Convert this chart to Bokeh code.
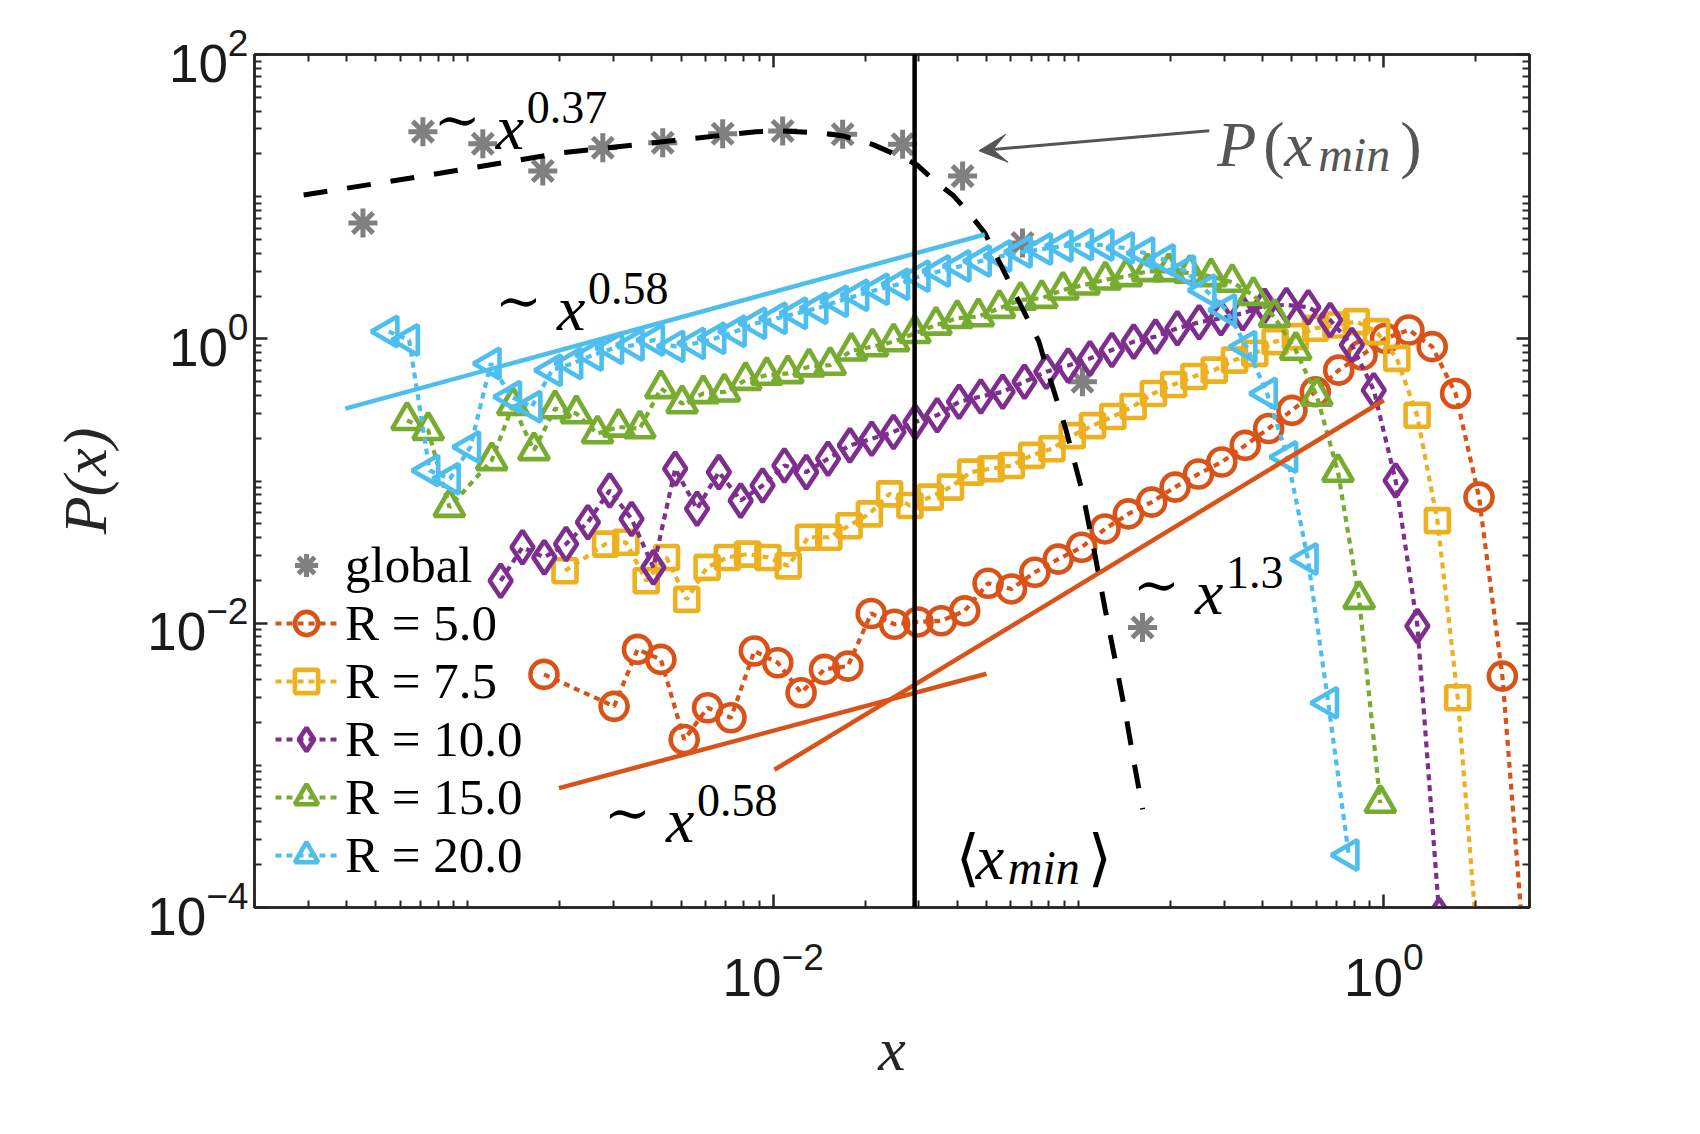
import math
from bokeh.plotting import figure
from bokeh.models import (Range1d, FixedTicker, LogAxis, Legend, LegendItem, Label,
                          Arrow, VeeHead, Span, CustomJSTickFormatter)
from bokeh.embed import file_html
from bokeh.resources import INLINE

# ---------------- data ----------------
x_global = [4.532e-4, 7.122e-4, 1.119e-3, 1.759e-3, 2.766e-3, 4.346e-3, 6.831e-3,
            0.01074, 0.01688, 0.02653, 0.04171, 0.06554, 0.1030, 0.1620]
y_global = [6.533, 28.67, 23.59, 15.14, 22.10, 23.97, 27.75,
            28.94, 27.52, 23.39, 13.95, 4.721, 0.4989, 9.31e-3]

x_r5 = [1.775e-3, 3.012e-3, 3.593e-3, 4.285e-3, 5.111e-3, 6.097e-3, 7.272e-3, 8.674e-3,
        0.01035, 0.01234, 0.01472, 0.01756, 0.02094, 0.02498, 0.02980, 0.03554, 0.04239,
        0.05056, 0.06031, 0.07195, 0.08580, 0.1024, 0.1221, 0.1456, 0.1737, 0.2072, 0.2471,
        0.2947, 0.3516, 0.4194, 0.5002, 0.5966, 0.7115, 0.8487, 1.0125, 1.208, 1.440, 1.718,
        2.050, 2.445, 2.916]
y_r5 = [4.36e-3, 2.60e-3, 6.54e-3, 5.56e-3, 1.52e-3, 2.54e-3, 2.16e-3, 6.37e-3, 5.27e-3,
        3.24e-3, 4.73e-3, 4.99e-3, 1.17e-2, 9.82e-3, 1.02e-2, 1.04e-2, 1.22e-2, 1.91e-2,
        1.74e-2, 2.28e-2, 2.82e-2, 3.42e-2, 4.60e-2, 5.87e-2, 7.10e-2, 9.06e-2, 0.112, 0.136,
        0.178, 0.234, 0.314, 0.424, 0.602, 0.769, 1.008, 1.154, 0.881, 0.4125, 0.0770,
        4.24e-3, 3.6e-5]

x_r75 = [2.080e-3, 2.825e-3, 3.292e-3, 3.836e-3, 4.471e-3, 5.209e-3, 6.072e-3, 7.075e-3,
         8.245e-3, 9.607e-3, 0.01120, 0.01305, 0.01521, 0.01772, 0.02065, 0.02406, 0.02804,
         0.03268, 0.03808, 0.04437, 0.05170, 0.06026, 0.07023, 0.08184, 0.09537, 0.1111,
         0.1295, 0.1509, 0.1759, 0.2050, 0.2388, 0.2783, 0.3243, 0.3779, 0.4404, 0.5131,
         0.5980, 0.6969, 0.8124, 0.9465, 1.103, 1.285, 1.498, 1.746, 2.034]
y_r75 = [2.335e-2, 3.60e-2, 3.71e-2, 1.99e-2, 2.90e-2, 1.47e-2, 2.47e-2, 2.90e-2, 3.06e-2,
         2.90e-2, 2.53e-2, 4.02e-2, 4.02e-2, 4.85e-2, 5.87e-2, 8.12e-2, 6.72e-2, 7.70e-2,
         9.06e-2, 0.1155, 0.122, 0.1286, 0.1514, 0.1687, 0.2084, 0.2453, 0.2839, 0.3339,
         0.4125, 0.4773, 0.5437, 0.602, 0.7086, 0.790, 0.9555, 1.036, 1.186, 1.251, 1.322,
         1.124, 0.7285, 0.2899, 0.0526, 2.985e-3, 5.0e-5]

x_r10 = [1.280e-3, 1.509e-3, 1.779e-3, 2.097e-3, 2.472e-3, 2.914e-3, 3.436e-3, 4.051e-3,
         4.775e-3, 5.630e-3, 6.637e-3, 7.825e-3, 9.228e-3, 0.01088, 0.01283, 0.01512,
         0.01783, 0.02102, 0.02477, 0.02921, 0.03444, 0.04060, 0.04786, 0.05643, 0.06653,
         0.07843, 0.09247, 0.1090, 0.1286, 0.1516, 0.1787, 0.2107, 0.2483, 0.2928, 0.3451,
         0.4069, 0.4797, 0.5656, 0.6668, 0.7861, 0.9268, 1.093, 1.288, 1.519]
y_r10 = [1.985e-2, 3.416e-2, 2.903e-2, 3.604e-2, 5.13e-2, 8.57e-2, 5.41e-2, 2.468e-2,
         0.1219, 6.37e-2, 0.1155, 7.28e-2, 9.29e-2, 0.1286, 0.1155, 0.1435, 0.178, 0.1985,
         0.2214, 0.2604, 0.2899, 0.3604, 0.3929, 0.424, 0.4989, 0.5869, 0.6501, 0.7285,
         0.8337, 0.9555, 1.036, 1.186, 1.307, 1.395, 1.514, 1.710, 1.732, 1.669, 1.357,
         0.904, 0.4352, 0.1008, 9.55e-3, 8.8e-5]

x_r15 = [6.320e-4, 7.413e-4, 8.696e-4, 1.1965e-3, 1.4035e-3, 1.646e-3, 1.931e-3, 2.266e-3,
         2.658e-3, 3.117e-3, 3.656e-3, 4.288e-3, 5.030e-3, 5.901e-3, 6.922e-3, 8.120e-3,
         9.524e-3, 0.01117, 0.01310, 0.01537, 0.01803, 0.02115, 0.02480, 0.02909, 0.03413,
         0.04005, 0.04697, 0.05509, 0.06463, 0.07579, 0.08892, 0.1043, 0.1224, 0.1435,
         0.1683, 0.1974, 0.2316, 0.2718, 0.3187, 0.3738, 0.4385, 0.5143, 0.6034, 0.7078,
         0.8302, 0.9739]
y_r15 = [0.2673, 0.2272, 0.0654, 0.1395, 0.341, 0.1641, 0.3232, 0.298, 0.2153, 0.2401,
         0.2335, 0.4474, 0.3506, 0.4125, 0.424, 0.5118, 0.5552, 0.5707, 0.6365, 0.6533,
         0.8228, 0.881, 0.9555, 1.093, 1.251, 1.395, 1.435, 1.641, 1.878, 1.931, 2.210,
         2.397, 2.600, 2.748, 2.980, 2.980, 2.899, 2.748, 2.504, 2.028, 1.418, 0.8337,
         0.396, 0.1155, 1.475e-2, 5.42e-4]

x_r20 = [5.503e-4, 6.420e-4, 7.488e-4, 8.737e-4, 1.019e-3, 1.189e-3, 1.387e-3, 1.618e-3,
         1.887e-3, 2.201e-3, 2.568e-3, 2.996e-3, 3.495e-3, 4.077e-3, 4.756e-3, 5.548e-3,
         6.473e-3, 7.551e-3, 8.808e-3, 0.01028, 0.01199, 0.01398, 0.01631, 0.01903, 0.02220,
         0.02590, 0.03021, 0.03524, 0.04112, 0.04795, 0.05595, 0.06527, 0.07614, 0.08882,
         0.1036, 0.1209, 0.1410, 0.1645, 0.1919, 0.2238, 0.2611, 0.3046, 0.3553, 0.4145,
         0.4834, 0.5639, 0.6578, 0.7674]
y_r20 = [1.124, 0.981, 0.1186, 0.1036, 0.1735, 0.6716, 0.3909, 0.3323, 0.602, 0.6716,
         0.769, 0.857, 0.904, 0.981, 0.885, 0.929, 1.008, 1.130, 1.286, 1.395, 1.514, 1.641,
         1.839, 2.028, 2.236, 2.424, 2.761, 2.995, 3.248, 3.524, 3.821, 4.077, 4.281, 4.495,
         4.606, 4.569, 4.351, 4.012, 3.581, 2.995, 2.199, 1.597, 0.881, 0.4125, 0.1475,
         2.825e-2, 2.75e-3, 2.34e-4]

# global fit (dashed curve)
x_gfit = [2.897e-4, 7.656e-4, 2.046e-3, 5.470e-3, 8.790e-3, 0.010765, 0.014125, 0.016943,
          0.021135, 0.025882, 0.029444, 0.033806, 0.038994, 0.044157, 0.049317, 0.074131,
          0.078705, 0.090782, 0.10304, 0.11324, 0.12218, 0.13243, 0.14322, 0.15205, 0.16218]
y_gfit = [10.26, 14.32, 20.37, 25.70, 28.64, 28.97, 28.18, 26.73, 23.33, 19.28, 16.87,
          12.91, 10.14, 7.482, 5.559, 0.9594, 0.6194, 0.2333, 0.08318, 0.0302, 0.01259,
          5.248e-3, 2.188e-3, 1.047e-3, 4.898e-4]

# power-law guide lines (end points)
x_fit20 = [3.968e-4, 0.04932]
y_fit20 = [0.3232, 5.418]
x_fit5a = [1.987e-3, 0.04995]
y_fit5a = [6.916e-4, 4.408e-3]
x_fit5b = [0.010090, 1.0]
y_fit5b = [9.311e-4, 0.3699]

x_min_mean = 0.02905

series_labels = ["R = 5.0", "R = 7.5", "R = 10.0", "R = 15.0", "R = 20.0"]
series_colors = ["#D95319", "#EDB120", "#7E2F8E", "#77AC30", "#4DBEEE"]

# ---------------- figure ----------------
SERIF = "Liberation Serif"
SYM = "DejaVu Serif"
SANS = "Liberation Sans"
AXC = "#262626"

p = figure(width=1684, height=1118, x_axis_type="log", y_axis_type="log",
           x_range=Range1d(2e-4, 3.0), y_range=Range1d(1e-4, 1e2),
           output_backend="svg", toolbar_location=None,
           min_border_left=254, min_border_right=155, min_border_top=54,
           min_border_bottom=211)
p.xgrid.visible = False
p.ygrid.visible = False
p.outline_line_color = AXC
p.outline_line_width = 2.5
p.background_fill_color = "white"
p.border_fill_color = "white"

x_major = [1e-4, 1e-2, 1.0]
x_minor = [m * 10.0 ** e for e in range(-4, 1) for m in range(1, 10) if not (m == 1 and e % 2 == 0)]
y_major = [1e-4, 1e-2, 1.0, 1e2]
y_minor = [m * 10.0 ** e for e in range(-4, 2) for m in range(1, 10) if not (m == 1 and e % 2 == 0)]


def style_axis(ax):
    ax.axis_line_color = AXC
    ax.axis_line_width = 2.5
    ax.major_tick_line_color = AXC
    ax.major_tick_line_width = 2.5
    ax.minor_tick_line_color = AXC
    ax.minor_tick_line_width = 2
    ax.major_tick_in = 13
    ax.major_tick_out = 0
    ax.minor_tick_in = 7
    ax.minor_tick_out = 0
    ax.major_label_text_font = SANS
    ax.major_label_text_font_size = "53px"
    ax.major_label_text_color = "#1a1a1a"


xa = p.xaxis[0]
ya = p.yaxis[0]
xa.ticker = FixedTicker(ticks=x_major, minor_ticks=x_minor)
ya.ticker = FixedTicker(ticks=y_major, minor_ticks=y_minor)
style_axis(xa)
style_axis(ya)
xa.major_label_standoff = 34
ya.major_label_standoff = 6
xa.axis_label = "x"
ya.axis_label = "P(x)"
for ax in (xa, ya):
    ax.axis_label_text_font = SERIF
    ax.axis_label_text_font_style = "italic"
    ax.axis_label_text_font_size = "62px"
    ax.axis_label_text_color = AXC
xa.axis_label_standoff = 16
ya.axis_label_standoff = 25

blank = CustomJSTickFormatter(code="return ''")
top = LogAxis(ticker=FixedTicker(ticks=x_major, minor_ticks=x_minor), formatter=blank)
right = LogAxis(ticker=FixedTicker(ticks=y_major, minor_ticks=y_minor), formatter=blank)
style_axis(top)
style_axis(right)
p.add_layout(top, "above")
p.add_layout(right, "right")

# ---------------- data renderers ----------------
g = p.scatter(x_global, y_global, marker="asterisk", size=29, line_color="#808080",
              line_width=5)
items = [LegendItem(label="global", renderers=[g])]

series = [
    (x_r5, y_r5, "circle", 27, 0.0),
    (x_r75, y_r75, "square", 23, 0.0),
    (x_r10, y_r10, "diamond", 33, 0.0),
    (x_r15, y_r15, "triangle", 30, 0.0),
    (x_r20, y_r20, "triangle", 30, math.pi / 2),
]
for (xs, ys, marker, size, ang), lab, col in zip(series, series_labels, series_colors):
    ln = p.line(xs, ys, line_color=col, line_width=4.2, line_dash="6 5")
    sc = p.scatter(xs, ys, marker=marker, size=size, angle=ang, line_color=col,
                   line_width=4.6, fill_alpha=0)
    items.append(LegendItem(label=lab, renderers=[ln, sc]))

p.line(x_gfit, y_gfit, line_color="black", line_width=5, line_dash="24 20")
p.line(x_fit20, y_fit20, line_color="#4DBEEE", line_width=4.5)
p.line(x_fit5a, y_fit5a, line_color="#D95319", line_width=4.5)
p.line(x_fit5b, y_fit5b, line_color="#D95319", line_width=4.5)
p.add_layout(Span(location=x_min_mean, dimension="height", line_color="black", line_width=4.5))

legend = Legend(items=items, location=(21, 23), background_fill_alpha=0,
                border_line_color=None, label_text_font=SERIF, label_text_font_size="51px",
                label_text_color="black", glyph_width=62, glyph_height=58, label_height=58,
                spacing=0, padding=0, margin=0, label_standoff=8)
p.add_layout(legend)

# ---------------- text annotations ----------------


def add_parts(x, y, parts, color="black"):
    for text, dx, dy, size, font, style in parts:
        p.add_layout(Label(x=x, y=y, x_offset=dx, y_offset=dy, text=text,
                           text_font=font, text_font_size=f"{size}px",
                           text_font_style=style, text_color=color,
                           text_align="left", text_baseline="alphabetic"))


def power_label(x, y, expo):
    add_parts(x, y, [("∼", 0, 8, 56, SYM, "normal"),
                     ("x", 62, 0, 64, SERIF, "italic"),
                     (expo, 93, 20, 46, SERIF, "normal")])


power_label(7.734e-4, 30.6, "0.37")
power_label(1.226e-3, 1.641, "0.58")
power_label(0.1509, 0.01652, "1.3")
power_label(2.793e-3, 4.064e-4, "0.58")

add_parts(0.03962, 2.265e-4, [("⟨", 0, 0, 62, SYM, "normal"),
                              ("x", 20, 0, 64, SERIF, "italic"),
                              ("min", 52, -10, 48, SERIF, "italic"),
                              ("⟩", 132, 0, 62, SYM, "normal")])

add_parts(0.2846, 23.32, [("P", 0, 0, 64, SERIF, "italic"),
                          ("(", 46, 0, 64, SERIF, "normal"),
                          ("x", 67, 0, 64, SERIF, "italic"),
                          ("min", 101, -10, 48, SERIF, "italic"),
                          (")", 183, 0, 64, SERIF, "normal")], color="#555555")

p.add_layout(Arrow(end=VeeHead(size=28, fill_color="#555555", line_color="#555555"),
                   x_start=0.268, y_start=29.1, x_end=0.0472, y_end=21.05,
                   line_color="#555555", line_width=3))

open("out.html", "w").write(file_html(p, INLINE))
